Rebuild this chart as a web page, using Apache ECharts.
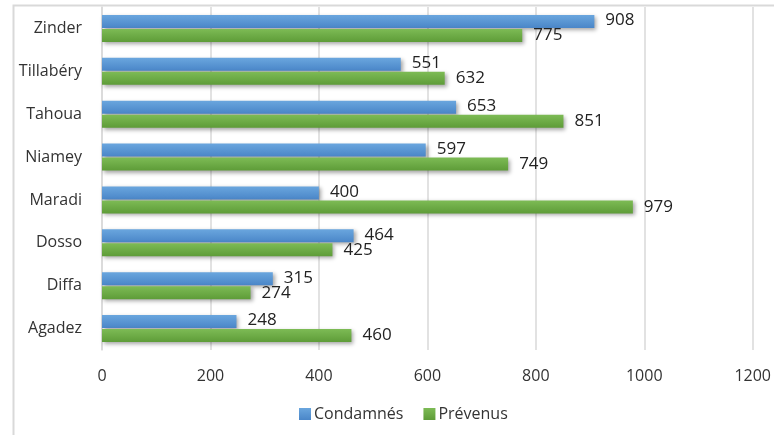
<!DOCTYPE html>
<html><head><meta charset="utf-8">
<script src="https://cdn.jsdelivr.net/npm/echarts@6/dist/echarts.min.js"></script>
<style>html,body{margin:0;padding:0;background:#fff}#c{width:774px;height:435px}</style>
</head><body><div id="c"></div>
<script>
const categories = ['Agadez','Diffa','Dosso','Maradi','Niamey','Tahoua','Tillabéry','Zinder'];
const condamnes = [248,315,464,400,597,653,551,908];
const prevenus = [460,274,425,979,749,851,632,775];
const xTicks = [0,200,400,600,800,1000,1200];

const chart = echarts.init(document.getElementById('c'));
const font = '"Open Sans", sans-serif';
function grad(top, bottom){
  return new echarts.graphic.LinearGradient(0,0,0,1,[{offset:0,color:top},{offset:1,color:bottom}]);
}
chart.setOption({
  animation:false,
  graphic:[{type:'polyline',shape:{points:[[13.5,435],[13.5,5.5],[774,5.5]]},style:{stroke:'#d9d9d9',lineWidth:2,fill:null}}],
  grid:{left:102,right:19,top:7,bottom:85},
  legend:{top:401,left:294,itemWidth:12,itemHeight:12,itemGap:20,icon:'rect',
    data:['Condamnés','Prévenus'],
    textStyle:{fontFamily:font,fontSize:16,color:'#333',padding:[0,0,0,-2]}},
  xAxis:{type:'value',min:xTicks[0],max:xTicks[xTicks.length-1],interval:200,
    axisLine:{show:false},axisTick:{show:false},
    axisLabel:{fontFamily:font,fontSize:16,color:'#333',margin:18,formatter:v=>String(v)},
    splitLine:{lineStyle:{color:'#d9d9d9',width:1.5}}},
  yAxis:{type:'category',data:categories,
    axisLine:{lineStyle:{color:'#d9d9d9',width:1.5}},axisTick:{show:false},
    axisLabel:{fontFamily:font,fontSize:16,color:'#333',margin:20}},
  series:[
    {name:'Condamnés',type:'bar',data:condamnes,barWidth:13,barGap:'8%',barCategoryGap:'40%',
     itemStyle:{color:grad('#6aa6de','#4a86c8'),shadowColor:'rgba(0,0,0,0.35)',shadowBlur:4,shadowOffsetX:2,shadowOffsetY:2},
     label:{show:true,position:'right',distance:11,offset:[0,-1],fontFamily:font,fontSize:17,color:'#222'}},
    {name:'Prévenus',type:'bar',data:prevenus,barWidth:13,
     itemStyle:{color:grad('#7dbb55','#5e9c38'),shadowColor:'rgba(0,0,0,0.35)',shadowBlur:4,shadowOffsetX:2,shadowOffsetY:2},
     label:{show:true,position:'right',distance:11,fontFamily:font,fontSize:17,color:'#222'}}
  ]
});
</script></body></html>
